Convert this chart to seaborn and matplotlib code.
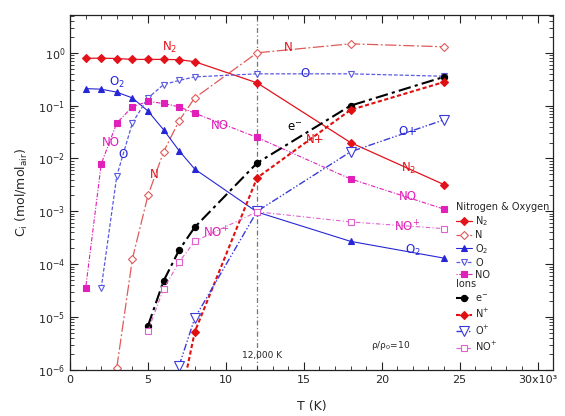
import numpy as np
import pandas as pd
import matplotlib
matplotlib.use("Agg")
import matplotlib.pyplot as plt
from matplotlib.ticker import MultipleLocator, LogLocator, FixedFormatter, FixedLocator, NullFormatter
import seaborn as sns

# temperatures (x10^3 K)
temp = [1, 2, 3, 4, 5, 6, 7, 8, 12, 18, 24]

# neutral species
n2 = [0.79, 0.79, 0.78, 0.75, 0.75, 0.75, 0.74, 0.68, 0.27, 0.020, 0.0032]
n_atom = [None, None, 1.1e-6, 1.26e-4, 2.0e-3, 0.0133, 0.052, 0.14, 1.0, 1.48, 1.3]
o2 = [0.21, 0.205, 0.18, 0.14, 0.079, 0.035, 0.014, 0.0063, 9.7e-4, 2.7e-4, 1.3e-4]
o_atom = [None, 3.5e-5, 4.7e-3, 0.047, 0.14, 0.25, 0.30, 0.35, 0.40, 0.40, 0.36]
no = [3.5e-5, 7.9e-3, 0.047, 0.095, 0.12, 0.11, 0.095, 0.072, 0.025, 4.1e-3, 1.1e-3]

# ions
e_minus = [None, None, None, None, 6.8e-6, 4.8e-5, 1.85e-4, 5.0e-4, 8.2e-3, 0.10, 0.35]
n_plus = [None, None, None, None, None, None, 2.0e-7, 5.2e-6, 4.3e-3, 0.083, 0.28]
o_plus = [None, None, None, None, None, None, 1.2e-6, 9.5e-6, 1.0e-3, 0.0134, 0.054]
no_plus = [None, None, None, None, 5.5e-6, 3.4e-5, 1.1e-4, 2.7e-4, 9.8e-4, 6.3e-4, 4.7e-4]

x_ticks = [0, 5, 10, 15, 20, 25, 30]
x_ticklabels = ["0", "5", "10", "15", "20", "25", "30x10\u00b3"]

sns.set_theme(style="ticks")
plt.rcParams["font.family"] = ["DejaVu Sans"]

fig = plt.figure(figsize=(5.65, 4.16), dpi=100)
ax = fig.add_axes([0.124, 0.111, 0.855, 0.853])

# species: (label, values, color, linestyle, marker, filled, msize, lw)
neutrals = [
    ("N$_2$", n2, "#e3121b", "-", "D", True, 4, 0.9),
    ("N", n_atom, "#e05a5a", (0, (9, 2, 1.5, 2)), "D", False, 4.5, 0.9),
    ("O$_2$", o2, "#2626d6", "-", "^", True, 4.5, 0.8),
    ("O", o_atom, "#5a5ae0", (0, (3, 1.5)), "v", False, 5, 0.9),
    ("NO", no, "#e020b8", (0, (1, 1.5, 4, 1.5)), "s", True, 4, 0.8),
]
ions = [
    ("e$^{-}$", e_minus, "#000000", (0, (6, 2, 1.5, 2)), "o", True, 4.5, 1.5),
    ("N$^{+}$", n_plus, "#e01010", (0, (2, 1.2)), "D", True, 4.5, 1.5),
    ("O$^{+}$", o_plus, "#3a3ad8", (0, (5, 1.5, 1, 1.5, 1, 1.5)), "v", False, 7, 1.0),
    ("NO$^{+}$", no_plus, "#e060d0", (0, (4, 2, 1, 2)), "s", False, 5, 0.8),
]

def draw(group):
    handles = []
    for label, vals, color, ls, mk, filled, ms, lw in group:
        df = pd.DataFrame({"T": temp, "C": vals}).dropna()
        sns.lineplot(data=df, x="T", y="C", ax=ax, color=color, linestyle=ls,
                     linewidth=lw, marker=mk, markersize=ms,
                     markerfacecolor=color if filled else "white",
                     markeredgecolor=color, markeredgewidth=0.8,
                     label=label, legend=False)
        handles.append(ax.lines[-1])
    return handles

h_neu = draw(neutrals)
h_ion = draw(ions)

ax.axvline(12, color="#777777", linestyle=(0, (4, 2, 1, 2)), linewidth=0.9, zorder=0)

ax.set_yscale("log")
ax.set_xlim(0, 31)
ax.set_ylim(1e-6, 5.2)

ax.xaxis.set_major_locator(FixedLocator(x_ticks))
ax.xaxis.set_major_formatter(FixedFormatter(x_ticklabels))
ax.xaxis.set_minor_locator(MultipleLocator(1))
ax.yaxis.set_major_locator(LogLocator(base=10, numticks=10))
ax.yaxis.set_minor_locator(LogLocator(base=10, subs=np.arange(2, 10), numticks=20))
ax.yaxis.set_minor_formatter(NullFormatter())
ax.xaxis.offsetText.set_visible(False)
ax.yaxis.offsetText.set_visible(False)

ax.tick_params(which="both", direction="in", top=True, right=True, labelsize=8, color="#222222")
ax.tick_params(which="major", length=6, width=0.8)
ax.tick_params(which="minor", length=3, width=0.6)
for s in ax.spines.values():
    s.set_linewidth(0.9)
    s.set_color("#222222")

ax.set_xlabel("T (K)", fontsize=9, labelpad=11)
ax.set_ylabel("C$_{\\mathrm{i}}$ (mol/mol$_{\\mathrm{air}}$)", fontsize=9, labelpad=6)

# in-plot labels
notes = [
    (6.4, 1.24, "N$_2$", "#e3121b"),
    (14.0, 1.24, "N", "#e3121b"),
    (3.0, 0.28, "O$_2$", "#2626d6"),
    (15.1, 0.40, "O", "#2626d6"),
    (2.6, 0.0197, "NO", "#e020b8"),
    (3.4, 0.0117, "O", "#2626d6"),
    (5.4, 0.0049, "N", "#e3121b"),
    (9.6, 0.043, "NO", "#e020b8"),
    (14.4, 0.038, "e$^{-}$", "#000000"),
    (15.7, 0.0225, "N+", "#e3121b"),
    (21.7, 0.032, "O+", "#2626d6"),
    (21.7, 0.0066, "N$_2$", "#e3121b"),
    (21.7, 0.0019, "NO", "#e020b8"),
    (21.6, 5.0e-4, "NO$^{+}$", "#e020b8"),
    (22.0, 1.8e-4, "O$_2$", "#2626d6"),
    (9.4, 3.9e-4, "NO$^{+}$", "#e020b8"),
]
for x, y, t, c in notes:
    ax.text(x, y, t, color=c, fontsize=8.5, ha="center", va="center")

ax.text(12.3, 1.9e-6, "12,000 K", fontsize=6.5, ha="center", va="center")
ax.text(20.6, 2.9e-6, "ρ/ρ$_0$=10", fontsize=6.5, ha="center", va="center")

leg_kw = dict(loc="upper left", frameon=False, fontsize=7, title_fontsize=7,
              handlelength=1.6, handletextpad=0.4, borderpad=0.1,
              borderaxespad=0, alignment="left")
leg1 = ax.legend(handles=h_neu, title="Nitrogen & Oxygen", labelspacing=0.2,
                 bbox_to_anchor=(0.797, 0.475), **leg_kw)
ax.add_artist(leg1)
ax.legend(handles=h_ion, title="Ions", labelspacing=0.35,
          bbox_to_anchor=(0.797, 0.258), **leg_kw)

fig.savefig("out.png", dpi=100)
